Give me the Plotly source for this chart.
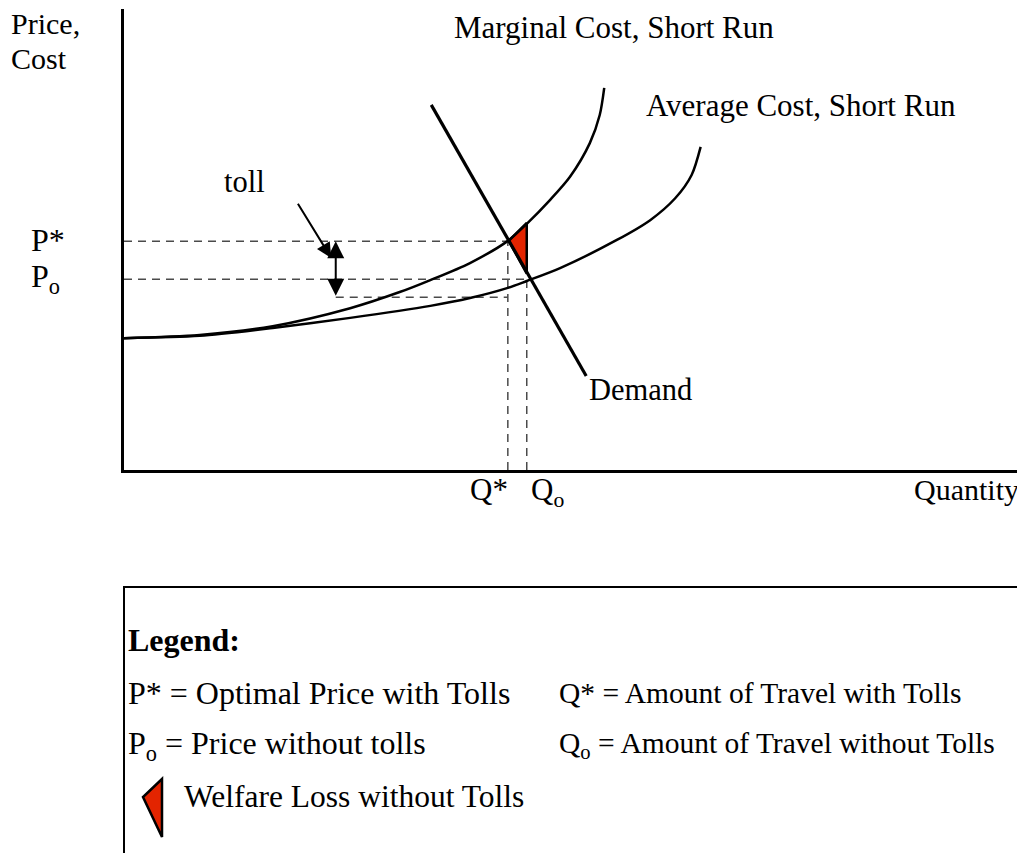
import plotly.graph_objects as go

# Marginal cost, short run (quantity, price)
mc_q = [0, 8.4, 16.5, 25.1, 30.6, 34.0, 38.4, 42.6, 44.7, 47.3, 49.5, 51.7, 52.8, 53.3]
mc_p = [28.6, 29.3, 31.2, 35.1, 38.6, 41.2, 44.9, 49.7, 53.4, 58.6, 63.6, 70.9, 77.0, 82.9]

# Average cost, short run
ac_q = [0, 8.4, 16.5, 25.1, 34.0, 38.4, 42.6, 44.7, 48.4, 54.7, 58.4, 61.2, 63.0, 64.0]
ac_p = [28.6, 29.1, 30.8, 33.0, 35.6, 37.3, 39.5, 41.0, 43.8, 49.9, 54.2, 59.0, 64.0, 70.1]

# Demand
dem_q = [34.1, 51.3]
dem_p = [79.2, 20.4]

# equilibrium values
q_star, q_o = 42.6, 44.7
p_star, p_o = 49.6, 41.4
p_low = 37.5      # bottom of the toll
toll_q = 23.5

# welfare loss triangle
loss_q = [42.7, 44.7, 44.7]
loss_p = [49.7, 53.6, 42.6]

# toll pointer (start -> tip)
ptr_q = [19.2, 23.0]
ptr_p = [58.1, 46.0]

FONT = "Liberation Serif"
OFF = 8                          # page body margin
L, R, T, B = 124, 1025, 9, 470   # plot area in page pixels
W, H = 1025 - OFF, 853 - OFF


def xp(px):
    return (px - L) / (R - L)


def yp(py):
    return (B - py) / (B - T)


def dq(px):
    return (px - L) / 9.01


def dp(py):
    return (B - py) / 4.61


fig = go.Figure()

dash = dict(color="#4a4a4a", width=1.5, dash="8px,6px")
fig.add_trace(go.Scatter(x=[0, q_star], y=[p_star, p_star], mode="lines", line=dash))
fig.add_trace(go.Scatter(x=[0, q_o], y=[p_o, p_o], mode="lines", line=dash))
fig.add_trace(go.Scatter(x=[toll_q, q_star], y=[p_low, p_low], mode="lines", line=dash))
fig.add_trace(go.Scatter(x=[q_star, q_star], y=[0, p_star], mode="lines", line=dash))
fig.add_trace(go.Scatter(x=[q_o, q_o], y=[0, p_o], mode="lines", line=dash))

fig.add_trace(go.Scatter(x=loss_q + loss_q[:1], y=loss_p + loss_p[:1], mode="lines",
                         fill="toself", fillcolor="#e32400",
                         line=dict(color="black", width=2.5)))

fig.add_trace(go.Scatter(x=mc_q, y=mc_p, mode="lines",
                         line=dict(color="black", width=2.5, shape="spline", smoothing=0.8)))
fig.add_trace(go.Scatter(x=ac_q, y=ac_p, mode="lines",
                         line=dict(color="black", width=2.5, shape="spline", smoothing=0.8)))
fig.add_trace(go.Scatter(x=dem_q, y=dem_p, mode="lines",
                         line=dict(color="black", width=3.2)))

ann = []


def label(text, x, y, size, ref="data", anchor="left"):
    a = dict(text=text, x=x, y=y, showarrow=False, xanchor=anchor, yanchor="middle",
             font=dict(family=FONT, size=size, color="black"))
    if ref == "paper":
        a.update(xref="paper", yref="paper")
    ann.append(a)


# chart labels
label("Marginal Cost, Short Run", dq(452), dp(27), 31)
label("Average Cost, Short Run", dq(644), dp(105), 31)
label("toll", dq(222), dp(182), 30.5)
label("Demand", dq(587), dp(390), 30.5)

# axis labels
label("Price,", xp(9), yp(23), 30, "paper")
label("Cost", xp(9), yp(58), 30, "paper")
label("P*", xp(29), yp(240), 32, "paper")
label("P<sub>o</sub>", xp(29), yp(278), 32, "paper")
label("Q*", xp(510), yp(490), 31, "paper", anchor="right")
label("Q<sub>o</sub>", xp(529), yp(492), 31, "paper")
label("Quantity", xp(912), yp(490), 30, "paper")

# legend box text
label("<b>Legend:</b>", xp(126), yp(640), 32, "paper")
label("P* = Optimal Price with Tolls", xp(126), yp(693), 32, "paper")
label("Q* = Amount of Travel with Tolls", xp(557), yp(693), 29.5, "paper")
label("P<sub>o</sub> = Price without tolls", xp(126), yp(745), 32, "paper")
label("Q<sub>o</sub> = Amount of Travel without Tolls", xp(557), yp(745), 29.5, "paper")
label("Welfare Loss without Tolls", xp(182), yp(797), 31.5, "paper")

# toll arrows
ann.append(dict(x=toll_q, y=p_star, ax=toll_q, ay=p_low, xref="x", yref="y",
                axref="x", ayref="y", text="", showarrow=True, arrowside="end+start",
                arrowhead=2, arrowsize=1.7, arrowwidth=2, arrowcolor="black"))
ann.append(dict(x=ptr_q[1], y=ptr_p[1], ax=ptr_q[0], ay=ptr_p[0], xref="x", yref="y",
                axref="x", ayref="y", text="", showarrow=True,
                arrowhead=2, arrowsize=1.5, arrowwidth=2, arrowcolor="black"))

shapes = [
    # legend frame (right and bottom edges lie off the page)
    dict(type="rect", xref="paper", yref="paper", x0=xp(124), x1=1.2, y0=yp(900), y1=yp(587),
         line=dict(color="black", width=2)),
    # legend swatch for the welfare loss
    dict(type="path", xref="paper", yref="paper",
         path=f"M {xp(162)},{yp(779)} L {xp(143)},{yp(797)} L {xp(162)},{yp(837)} Z",
         fillcolor="#e32400", line=dict(color="black", width=2.5)),
]

fig.update_layout(
    width=W, height=H,
    margin=dict(l=L - OFF, r=0, t=T - OFF, b=H - (B - OFF)),
    paper_bgcolor="white", plot_bgcolor="white",
    showlegend=False,
    annotations=ann,
    shapes=shapes,
    xaxis=dict(range=[0, 100], showline=True, linecolor="black", linewidth=2.5,
               showgrid=False, zeroline=False, showticklabels=False, ticks=""),
    yaxis=dict(range=[0, 100], showline=True, linecolor="black", linewidth=2.5,
               showgrid=False, zeroline=False, showticklabels=False, ticks=""),
)

fig.write_html("out.html")
